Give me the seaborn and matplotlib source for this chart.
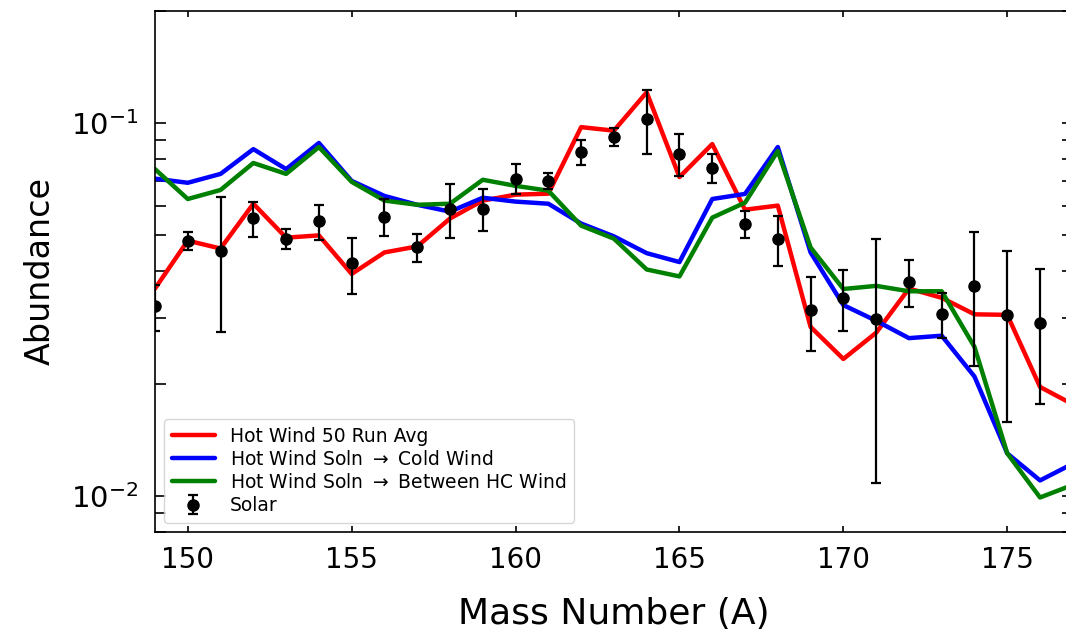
import numpy as np
import pandas as pd
import matplotlib
matplotlib.use("Agg")
import matplotlib.pyplot as plt
import seaborn as sns

# Mass numbers of the rare-earth region
mass_number = list(range(149, 178))

hot_wind_avg = [0.036, 0.0484, 0.0461, 0.0608, 0.0493, 0.050, 0.0394, 0.045, 0.0467,
                0.0555, 0.062, 0.0643, 0.0647, 0.0976, 0.0955, 0.121, 0.0717, 0.0879,
                0.0586, 0.0601, 0.0284, 0.0233, 0.0274, 0.036, 0.034, 0.0307, 0.0306,
                0.0196, 0.0176]

hot_to_cold = [0.071, 0.0692, 0.0731, 0.0852, 0.0753, 0.0885, 0.070, 0.0638, 0.0604,
               0.0579, 0.0631, 0.0616, 0.0608, 0.0538, 0.0497, 0.0448, 0.0424, 0.0626,
               0.0646, 0.0863, 0.045, 0.0325, 0.0295, 0.0265, 0.0269, 0.0209, 0.013,
               0.011, 0.0122]

hot_to_between = [0.0753, 0.0626, 0.0662, 0.0782, 0.0731, 0.0863, 0.0696, 0.062, 0.0604,
                  0.0608, 0.0705, 0.0679, 0.0659, 0.0531, 0.049, 0.0405, 0.0388, 0.0558,
                  0.0612, 0.0842, 0.0464, 0.0359, 0.0366, 0.0354, 0.0354, 0.0251, 0.013,
                  0.0099, 0.0107]

solar = [0.0323, 0.0484, 0.0455, 0.0555, 0.049, 0.0545, 0.0421, 0.0561, 0.0464, 0.059,
         0.059, 0.071, 0.070, 0.0837, 0.0918, 0.1025, 0.0827, 0.0759, 0.0538, 0.049,
         0.0315, 0.034, 0.0298, 0.0376, 0.0308, 0.0366, 0.0306, 0.0291, 0.0221]

solar_err = [0.0046, 0.0028, 0.018, 0.006, 0.0031, 0.0058, 0.0072, 0.0064, 0.0039, 0.0098,
             0.0076, 0.0066, 0.0034, 0.0067, 0.005, 0.02, 0.0106, 0.007, 0.0045, 0.0075,
             0.0071, 0.0063, 0.019, 0.0054, 0.0043, 0.0143, 0.0148, 0.0115, 0.005]

x_ticks = [150, 155, 160, 165, 170, 175]

sns.set_style("ticks")
plt.rcParams["font.family"] = ["DejaVu Sans"]
plt.rcParams["mathtext.fontset"] = "dejavusans"
plt.rcParams["text.color"] = "k"
plt.rcParams["axes.labelcolor"] = "k"
plt.rcParams["xtick.color"] = "k"
plt.rcParams["ytick.color"] = "k"

fig = plt.figure(figsize=(10.66, 6.33), dpi=100)
ax = fig.add_axes([0.1454, 0.1596, 0.861, 0.823])

df = pd.DataFrame({
    "A": mass_number,
    "avg": hot_wind_avg,
    "cold": hot_to_cold,
    "between": hot_to_between,
})

sns.lineplot(data=df, x="A", y="avg", color="r", lw=3.2, ax=ax,
             label="Hot Wind 50 Run Avg")
sns.lineplot(data=df, x="A", y="cold", color="b", lw=3.2, ax=ax,
             label=r"Hot Wind Soln $\rightarrow$ Cold Wind")
sns.lineplot(data=df, x="A", y="between", color="g", lw=3.2, ax=ax,
             label=r"Hot Wind Soln $\rightarrow$ Between HC Wind")
ax.errorbar(mass_number, solar, yerr=solar_err, fmt="o", color="k", ms=8,
            elinewidth=1.6, capsize=3.5, capthick=1.6, label="Solar", zorder=5)

ax.set_yscale("log")
ax.set_xlim(149, 177)
ax.set_ylim(0.008, 0.2)
ax.set_xticks(x_ticks)
ax.set_xticklabels([str(t) for t in x_ticks])

ax.set_xlabel("Mass Number (A)", fontsize=26, labelpad=17)
ax.set_ylabel("Abundance", fontsize=24, labelpad=10)

ax.tick_params(axis="both", which="both", direction="in", top=True, right=True,
               labelsize=20, width=1.2, color="k", labelcolor="k")
ax.tick_params(axis="x", which="major", length=4.5, pad=10)
ax.tick_params(axis="y", which="major", length=8, pad=12, labelsize=21)
ax.tick_params(axis="y", which="minor", length=8)
for sp in ax.spines.values():
    sp.set_linewidth(1.2)
    sp.set_color("k")

ax.legend(loc="lower left", fontsize=13.5, frameon=True, handlelength=2.3,
          labelspacing=0.22)

fig.savefig("out.png", dpi=100)
